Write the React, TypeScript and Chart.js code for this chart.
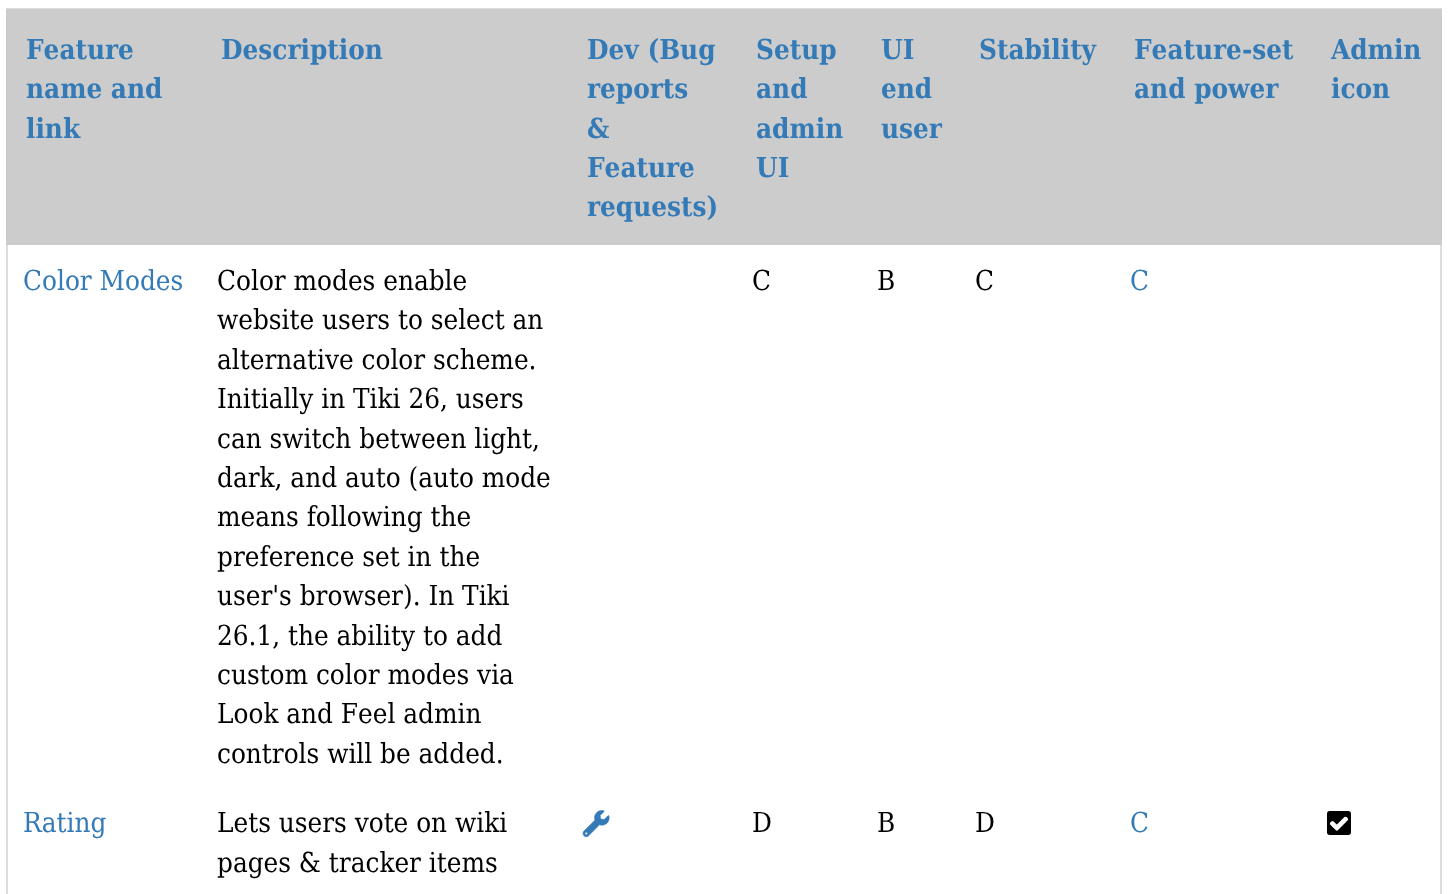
import React, { useEffect, useRef } from "react";
import { Chart, registerables } from "chart.js";

Chart.register(...registerables);

const headerCells = [
  ["Feature", "name and", "link"],
  ["Description"],
  ["Dev (Bug", "reports", "&", "Feature", "requests)"],
  ["Setup", "and", "admin", "UI"],
  ["UI", "end", "user"],
  ["Stability"],
  ["Feature-set", "and power"],
  ["Admin", "icon"],
];
const featureNames = ["Color Modes", "Rating"];
const descriptions = [
  [
    "Color modes enable",
    "website users to select an",
    "alternative color scheme.",
    "Initially in Tiki 26, users",
    "can switch between light,",
    "dark, and auto (auto mode",
    "means following the",
    "preference set in the",
    "user's browser). In Tiki",
    "26.1, the ability to add",
    "custom color modes via",
    "Look and Feel admin",
    "controls will be added.",
  ],
  ["Lets users vote on wiki", "pages & tracker items"],
];
const setupGrades = ["C", "D"];
const uiGrades = ["B", "B"];
const stabilityGrades = ["C", "D"];
const featureSetGrades = ["C", "C"];
const devIcons = [false, true];
const adminIcons = [false, true];

const W = 1448;
const H = 894;
const headerX = [26, 221, 587, 756, 881, 979, 1134, 1331];
const bodyX = [23, 217, 583, 752, 877, 975, 1130, 1327];
const rowBaseline = [290, 832.3];
const headerBaseline = 58.8;
const LINE = 39.4;
const BLUE = "#337ab7";
const SERIF = '"DejaVu Serif Condensed", "DejaVu Serif"';
const SIZE = 27.6;

const WRENCH = "M507.73 109.1c-2.24-9.03-13.54-12.09-20.12-5.51l-74.36 74.36-67.88-11.31-11.31-67.88 74.36-74.36c6.62-6.62 3.43-17.9-5.66-20.16-47.38-11.74-99.55.91-136.58 37.93-39.64 39.64-50.55 97.1-34.05 147.2L18.74 402.76c-24.99 24.99-24.99 65.51 0 90.5 24.99 24.99 65.51 24.99 90.5 0l213.21-213.21c50.12 16.71 107.47 5.68 147.37-34.22 37.07-37.07 49.7-89.32 37.91-136.73zM64 472c-13.25 0-24-10.75-24-24 0-13.26 10.75-24 24-24s24 10.74 24 24c0 13.25-10.75 24-24 24z";
const BOX = "M400 480H48c-26.51 0-48-21.49-48-48V80c0-26.51 21.49-48 48-48h352c26.51 0 48 21.49 48 48v352c0 26.51-21.49 48-48 48z";
const MARK = "M195.314 381.941l184-184c6.248-6.248 6.248-16.379 0-22.627l-22.627-22.627c-6.248-6.248-16.379-6.249-22.628 0L184 302.745l-69.059-69.059c-6.248-6.248-16.379-6.248-22.628 0L69.686 256.313c-6.248 6.248-6.248 16.379 0 22.627l104 104c6.249 6.25 16.379 6.25 22.628.001z";

const tablePlugin = {
  id: "tablePlugin",
  afterDraw(chart: any) {
    const { ctx, scales } = chart;
    const px = (v: number) => scales.x.getPixelForValue(v);
    const py = (v: number) => scales.y.getPixelForValue(v);
    const text = (s: string, x: number, y: number, color: string, bold = false) => {
      ctx.font = `${bold ? "bold " : ""}${SIZE}px ${SERIF}`;
      ctx.fillStyle = color;
      ctx.fillText(s, px(x), py(Math.round(y)));
    };
    const icon = (paths: [string, string, number][], x: number, y: number, size: number) => {
      ctx.save();
      ctx.translate(px(x), py(y));
      ctx.scale(size / 512, size / 512);
      paths.forEach(([path, color, weight]) => {
        const p = new Path2D(path);
        ctx.fillStyle = color;
        ctx.fill(p);
        if (weight > 0) {
          ctx.strokeStyle = color;
          ctx.lineWidth = weight;
          ctx.stroke(p);
        }
      });
      ctx.restore();
    };
    ctx.save();
    ctx.textBaseline = "alphabetic";
    ctx.textAlign = "left";
    ctx.textRendering = "geometricPrecision";
    ctx.fontKerning = "none";
    ctx.fillStyle = "#dddddd";
    ctx.fillRect(px(6), py(8), 2, H);
    ctx.fillRect(px(1440), py(8), 2, H);
    ctx.fillRect(px(6), py(8), 1436, 1);
    ctx.fillStyle = "#cccccc";
    ctx.fillRect(px(6), py(9), 1436, 236);

    headerCells.forEach((lines, c) =>
      lines.forEach((s, i) => text(s, headerX[c], headerBaseline + i * LINE, BLUE, true))
    );
    featureNames.forEach((name, r) => {
      const base = rowBaseline[r];
      text(name, bodyX[0], base, BLUE);
      descriptions[r].forEach((s, i) => text(s, bodyX[1], base + i * LINE, "#000000"));
      text(setupGrades[r], bodyX[3], base, "#000000");
      text(uiGrades[r], bodyX[4], base, "#000000");
      text(stabilityGrades[r], bodyX[5], base, "#000000");
      text(featureSetGrades[r], bodyX[6], base, BLUE);
      if (devIcons[r]) icon([[WRENCH, BLUE, 12]], bodyX[2], base - 21.8, 26.2);
      if (adminIcons[r]) icon([[BOX, "#000000", 0], [MARK, "#ffffff", 22]], bodyX[7], base - 23, 27.4);
    });
    ctx.restore();
  },
};

export default function App() {
  const ref = useRef<HTMLCanvasElement>(null);
  useEffect(() => {
    document.body.style.margin = "0";
    document.body.style.background = "#ffffff";
    const chart = new Chart(ref.current!, {
      type: "scatter",
      data: { datasets: [{ data: [], pointRadius: 0 }] },
      options: {
        animation: false,
        responsive: false,
        devicePixelRatio: 1,
        layout: { padding: 0 },
        plugins: { legend: { display: false }, title: { display: false }, tooltip: { enabled: false } },
        scales: {
          x: { type: "linear", min: 0, max: W, display: false },
          y: { type: "linear", min: 0, max: H, reverse: true, display: false },
        },
      },
      plugins: [tablePlugin],
    });
    return () => chart.destroy();
  }, []);
  return <canvas ref={ref} width={W} height={H} style={{ display: "block", width: W, height: H }} />;
}
